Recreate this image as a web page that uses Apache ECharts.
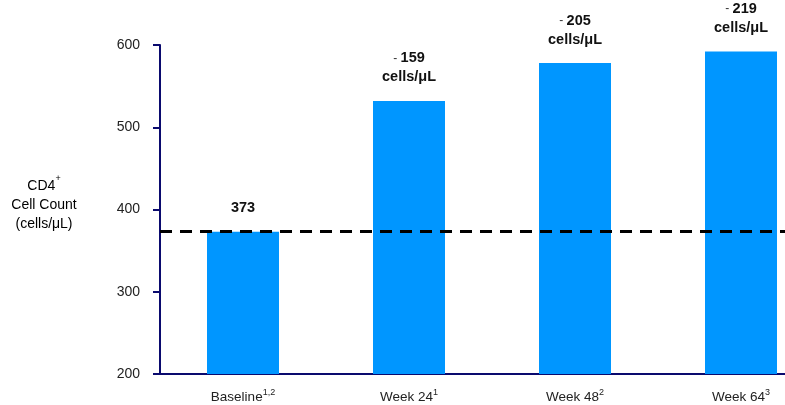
<!DOCTYPE html>
<html>
<head>
<meta charset="utf-8">
<script src="https://cdn.jsdelivr.net/npm/echarts@6/dist/echarts.min.js"></script>
<style>
  html, body { margin: 0; padding: 0; background: #fff; }
  #chart { width: 785px; height: 405px; }
</style>
</head>
<body>
<div id="chart"></div>
<script>
// CD4+ cell counts at each visit
const visits = ['Baseline', 'Week 24', 'Week 48', 'Week 64'];
const visitRefs = ['1,2', '1', '2', '3'];
const cd4Counts = [373, 532, 578, 592];
const yTicks = [200, 300, 400, 500, 600];

const baseline = cd4Counts[0];
const FONT = 'Liberation Sans, Arial, sans-serif';
const AXIS_COLOR = '#0a0a6e';

function barLabel(p) {
  if (p.dataIndex === 0) return '{b|' + p.value + '}';
  return '{d|-} {b|' + (p.value - baseline) + '}\n{b|cells/μL}';
}

const chart = echarts.init(document.getElementById('chart'), null, { renderer: 'canvas' });
chart.setOption({
  animation: false,
  grid: { left: 160, top: 45, width: 664, height: 329, outerBoundsMode: 'none', containLabel: false },
  xAxis: {
    type: 'category',
    data: visits,
    axisLine: { show: true, lineStyle: { color: AXIS_COLOR, width: 2 } },
    axisTick: { show: false },
    axisLabel: {
      margin: 14,
      formatter: function (v, i) { return '{n|' + v + '}{s|' + visitRefs[i] + '}'; },
      rich: {
        n: { fontFamily: FONT, fontSize: 13.5, color: '#222', lineHeight: 16, verticalAlign: 'bottom' },
        s: { fontFamily: FONT, fontSize: 9, color: '#222', lineHeight: 16, verticalAlign: 'top' }
      }
    }
  },
  yAxis: {
    type: 'value',
    min: yTicks[0],
    max: yTicks[yTicks.length - 1],
    interval: 100,
    splitLine: { show: false },
    axisLine: { show: true, lineStyle: { color: AXIS_COLOR, width: 2 } },
    axisTick: { show: true, inside: false, length: 7, lineStyle: { color: AXIS_COLOR, width: 2 } },
    axisLabel: { fontFamily: FONT, fontSize: 14, color: '#222', margin: 20 }
  },
  graphic: [{
    type: 'text',
    x: 44,
    y: 174,
    style: {
      text: '{a|CD4}{p|+}\n{a|Cell Count}\n{a|(cells/μL)}',
      align: 'center',
      rich: {
        a: { fontFamily: FONT, fontSize: 14, color: '#222', lineHeight: 19, verticalAlign: 'bottom' },
        p: { fontFamily: FONT, fontSize: 9, color: '#222', lineHeight: 19, verticalAlign: 'top' }
      }
    }
  }],
  series: [{
    type: 'bar',
    data: cd4Counts,
    barWidth: 72,
    itemStyle: { color: '#0096ff' },
    label: {
      show: true,
      position: 'top',
      distance: 14,
      align: 'center',
      formatter: barLabel,
      rich: {
        b: { fontFamily: FONT, fontSize: 14.5, fontWeight: 'bold', color: '#111', lineHeight: 19, align: 'center' },
        d: { fontFamily: FONT, fontSize: 12, color: '#333', lineHeight: 19 }
      }
    },
    markLine: {
      silent: true,
      symbol: 'none',
      label: { show: false },
      lineStyle: { color: '#000', width: 3, type: [12, 8] },
      data: [{ yAxis: baseline }]
    }
  }]
});
</script>
</body>
</html>
